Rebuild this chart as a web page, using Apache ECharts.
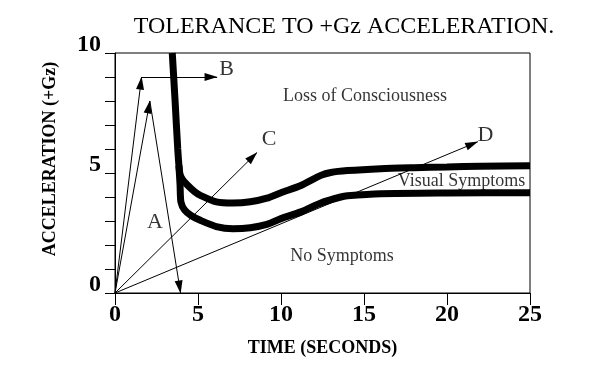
<!DOCTYPE html>
<html><head><meta charset="utf-8">
<script src="https://cdn.jsdelivr.net/npm/echarts@6/dist/echarts.min.js"></script>
<style>html,body{margin:0;padding:0;background:#fff}#c{width:598px;height:390px}</style>
</head><body><div id="c"></div>
<script>
const titleText = 'TOLERANCE TO +Gz ACCELERATION.';
const xAxisName = 'TIME (SECONDS)';
const yAxisName = 'ACCELERATION (+Gz)';
const xTicks = [0, 5, 10, 15, 20, 25];
const yTicks = [0, 5, 10];

// Loss of consciousness boundary (upper thick curve)
const lossT = [3.45, 3.62, 3.78, 3.9, 4.05, 4.33, 4.8, 5.14, 6.1, 7.1, 8.15, 9.15, 10.0, 11.2, 12.4, 13.0, 14.0, 16, 18, 20, 22, 25];
const lossG = [10, 8, 6, 5.0, 4.75, 4.52, 4.22, 4.07, 3.8, 3.75, 3.8, 3.95, 4.18, 4.48, 4.9, 5.02, 5.1, 5.18, 5.22, 5.25, 5.28, 5.3];
// Visual symptoms boundary (lower thick curve)
const visT = [3.85, 3.92, 3.97, 4.2, 4.6, 5.14, 6.1, 7.1, 8.15, 9.15, 10.0, 11.2, 12.4, 13.6, 14.0, 16, 20, 25];
const visG = [5.3, 4.5, 3.8, 3.45, 3.22, 3.03, 2.77, 2.68, 2.72, 2.86, 3.1, 3.38, 3.75, 4.0, 4.05, 4.14, 4.17, 4.18];

// Acceleration profile arrows
const arrowStartT = [0, 2.1, 0, 1.6, 0, 0];
const arrowStartG = [0, 8, 0, 9, 0, 0];
const arrowEndT = [2.1, 3.95, 1.6, 6.15, 8.55, 21.85];
const arrowEndG = [8, 0, 9, 9, 5.85, 6.3];

// Annotations
const noteTexts = ['Loss of Consciousness', 'Visual Symptoms', 'No Symptoms', 'A', 'B', 'C', 'D'];
const noteT = [15.06, 20.87, 13.67, 2.41, 6.72, 9.28, 22.32];
const noteG = [8.2, 4.65, 1.53, 2.93, 9.32, 6.4, 6.57];

const serif = '"Liberation Serif", "Times New Roman", serif';

const chart = echarts.init(document.getElementById('c'), null, {renderer: 'canvas'});

const pairs = (a, b) => a.map((v, i) => [v, b[i]]);
const arrowData = arrowStartT.map((t, i) => [
  {coord: [t, arrowStartG[i]]},
  {coord: [arrowEndT[i], arrowEndG[i]]}
]);
const noteData = noteTexts.map((txt, i) => {
  const letter = txt.length === 1;
  const lab = {
    show: true, position: 'inside', formatter: txt, color: '#000',
    fontFamily: serif, fontSize: letter ? 22 : 18, fontWeight: 'normal'
  };
  if (txt === 'Visual Symptoms') { lab.backgroundColor = '#fff'; lab.padding = [1, 3]; }
  return {value: [noteT[i], noteG[i]], name: txt, label: lab};
});

chart.setOption({
  animation: false,
  backgroundColor: '#fff',
  title: {
    text: titleText, left: 339, top: 10, textAlign: 'center',
    textStyle: {fontFamily: serif, fontSize: 24, fontWeight: 'normal', color: '#000'}
  },
  grid: {left: 115, right: 68, top: 53, bottom: 97, show: true, borderColor: '#000', borderWidth: 1, backgroundColor: 'transparent'},
  xAxis: {
    type: 'value', min: xTicks[0], max: xTicks[xTicks.length - 1], interval: xTicks[1] - xTicks[0],
    name: xAxisName, nameLocation: 'middle', nameGap: 46,
    nameTextStyle: {fontFamily: serif, fontSize: 18, fontWeight: 'bold', color: '#000'},
    axisLine: {lineStyle: {color: '#000', width: 1}},
    axisTick: {length: 12, lineStyle: {color: '#000'}},
    axisLabel: {fontFamily: serif, fontSize: 24, fontWeight: 'bold', color: '#000', margin: 10},
    splitLine: {show: false}
  },
  yAxis: {
    type: 'value', min: yTicks[0], max: yTicks[yTicks.length - 1], interval: yTicks[1] - yTicks[0],
    name: yAxisName, nameLocation: 'middle', nameGap: 56,
    nameTextStyle: {fontFamily: serif, fontSize: 18, fontWeight: 'bold', color: '#000', padding: [0, 0, 0, 28]},
    axisLine: {lineStyle: {color: '#000', width: 1}},
    axisTick: {length: 10, lineStyle: {color: '#000'}},
    minorTick: {show: true, splitNumber: 5, length: 10, lineStyle: {color: '#000'}},
    axisLabel: {fontFamily: serif, fontSize: 24, fontWeight: 'bold', color: '#000', margin: 14, verticalAlign: 'bottom', lineHeight: 16},
    splitLine: {show: false}
  },
  series: [
    {
      type: 'line', name: 'arrows', data: [], z: 1, silent: true,
      markLine: {
        silent: true, animation: false,
        symbol: ['none', 'triangle'], symbolSize: [8, 13], symbolOffset: [[0, 0], [0, 6]],
        label: {show: false},
        lineStyle: {color: '#000', width: 1, type: 'solid'},
        itemStyle: {color: '#000'},
        emphasis: {disabled: true},
        data: arrowData
      }
    },
    {
      type: 'scatter', name: 'notes', data: noteData, symbolSize: 0, z: 2, silent: true,
      itemStyle: {color: 'transparent'}
    },
    {
      type: 'line', name: 'Loss of Consciousness', data: pairs(lossT, lossG), z: 3,
      showSymbol: false, smooth: 0.25, lineStyle: {color: '#000', width: 7}, silent: true
    },
    {
      type: 'line', name: 'Visual Symptoms', data: pairs(visT, visG), z: 3,
      showSymbol: false, smooth: 0.25, lineStyle: {color: '#000', width: 7}, silent: true
    }
  ]
});
</script>
</body></html>
